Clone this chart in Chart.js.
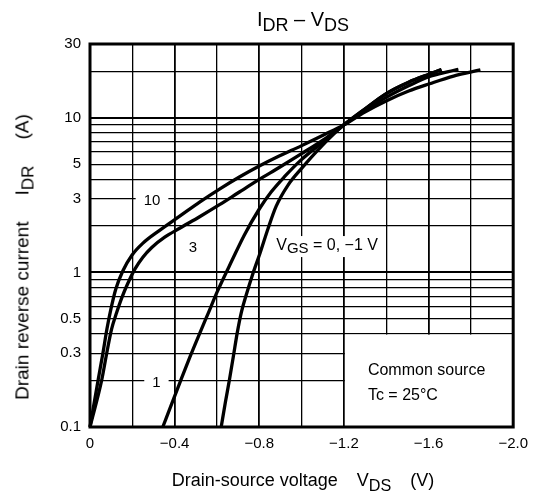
<!DOCTYPE html>
<html><head><meta charset="utf-8">
<script src="https://cdn.jsdelivr.net/npm/chart.js@4/dist/chart.umd.min.js"></script>
<style>
html,body{margin:0;padding:0;background:#fff;}
#wrap{position:relative;width:536px;height:499px;font-family:"Liberation Sans",Arial,sans-serif;color:#000;overflow:hidden;}
canvas{position:absolute;left:0;top:0;}
.t{position:absolute;white-space:nowrap;line-height:1;}
.sub{font-size:0.9em;position:relative;top:0.3em;}
.gap{display:inline-block;width:19px;}
.gapy{display:inline-block;width:26px;}
#title{left:303px;top:19px;font-size:20px;transform:translate(-50%,-50%);}
#xt{left:303px;top:480px;font-size:18px;transform:translate(-50%,-50%);}
#yt{left:22px;top:257px;font-size:19px;transform:translate(-50%,-50%) rotate(-90deg);}
</style></head><body>
<div id="wrap">
<canvas id="c" width="536" height="499" style="width:536px;height:499px"></canvas>
<div class="t" id="title">I<span class="sub">DR</span> – V<span class="sub">DS</span></div>
<div class="t" id="xt">Drain-source voltage<span class="gap"></span>V<span class="sub">DS</span><span class="gap"></span>(V)</div>
<div class="t" id="yt">Drain reverse current<span class="gapy"></span>I<span class="sub">DR</span><span class="gapy"></span>(A)</div>
</div>
<script>
// ---- data (V in volts, I in amperes) ----
const v10 = [0, -0.038, -0.061, -0.080, -0.099, -0.122, -0.155, -0.198, -0.249, -0.329, -0.424, -0.518, -0.612, -0.706, -0.800, -0.894, -0.998, -1.106, -1.2, -1.299, -1.402, -1.506, -1.605, -1.718, -1.845];
const i10 = [0.1, 0.2, 0.3, 0.43, 0.58, 0.78, 1.02, 1.29, 1.54, 1.87, 2.31, 2.85, 3.46, 4.14, 4.88, 5.66, 6.58, 7.76, 9.0, 10.9, 12.9, 14.9, 16.6, 18.6, 20.4];

const v3 = [0, -0.055, -0.079, -0.102, -0.126, -0.151, -0.179, -0.212, -0.249, -0.292, -0.353, -0.424, -0.518, -0.612, -0.706, -0.8, -0.894, -0.998, -1.106, -1.2, -1.299, -1.402, -1.506, -1.605, -1.694, -1.741];
const i3 = [0.1, 0.2, 0.3, 0.43, 0.55, 0.69, 0.85, 1.05, 1.25, 1.45, 1.69, 1.93, 2.29, 2.74, 3.31, 3.99, 4.77, 5.84, 7.25, 9.0, 11.1, 13.6, 16.1, 18.5, 19.9, 20.6];

const v0 = [-0.344, -0.386, -0.428, -0.471, -0.518, -0.560, -0.602, -0.673, -0.729, -0.8, -0.856, -0.918, -0.998, -1.101, -1.2, -1.299, -1.402, -1.506, -1.605, -1.661];
const i0 = [0.1, 0.141, 0.199, 0.281, 0.402, 0.55, 0.753, 1.21, 1.74, 2.57, 3.31, 4.14, 5.34, 6.98, 9.0, 11.4, 14.4, 17.0, 19.2, 20.5];

const vm1 = [-0.620, -0.640, -0.659, -0.678, -0.696, -0.715, -0.739, -0.767, -0.805, -0.842, -0.880, -0.936, -0.998, -1.096, -1.2, -1.299, -1.402, -1.506, -1.605, -1.661];
const im1 = [0.1, 0.145, 0.202, 0.289, 0.408, 0.55, 0.72, 0.956, 1.35, 1.93, 2.68, 3.67, 4.67, 6.58, 9.0, 11.4, 14.4, 17.0, 19.2, 20.5];

// axis grid / tick labels
const xGrid = [0, -0.2, -0.4, -0.6, -0.8, -1.0, -1.2, -1.4, -1.6, -1.8, -2.0];
const xLabelValues = [0, -0.4, -0.8, -1.2, -1.6, -2.0];
const xTickLabels = ['0', '\u22120.4', '\u22120.8', '\u22121.2', '\u22121.6', '\u22122.0'];
const yGrid = [0.1,0.2,0.3,0.4,0.5,0.6,0.7,0.8,0.9,1,2,3,4,5,6,7,8,9,10,20,30];
const yLabelValues = [0.1, 0.3, 0.5, 1, 3, 5, 10, 30];
const yTickLabels = ['0.1', '0.3', '0.5', '1', '3', '5', '10', '30'];

// curve labels: [text, V, I, whiteBackground]
const curveLabels = [['10', -0.293, 3, true], ['3', -0.486, 1.48, false], ['1', -0.314, 0.2, true]];
const vgsLabel = {v: -0.88, i: 1.48};
const noteBox = {v0: -1.2, v1: -2.0, i0: 0.1, i1: 0.4};
const noteLines = ['Common source', 'Tc = 25\u00B0C'];

const FONT = '"Liberation Sans", Arial, sans-serif';
const pts = (vs, is) => vs.map((v, k) => ({x: v, y: is[k]}));
const near = (a, b) => Math.abs(a - b) < 1e-9;

const ds = (d) => ({data: d, borderColor: '#000', borderWidth: 3.3, pointRadius: 0,
  cubicInterpolationMode: 'monotone', fill: false, clip: false, borderCapStyle: 'butt'});

const decor = {
  id: 'decor',
  beforeDatasetsDraw(chart) {
    const {ctx, scales: {x, y}} = chart;
    ctx.save();
    const bx0 = x.getPixelForValue(noteBox.v0), bx1 = x.getPixelForValue(noteBox.v1);
    const by0 = y.getPixelForValue(noteBox.i0), by1 = y.getPixelForValue(noteBox.i1);
    ctx.fillStyle = '#fff';
    ctx.fillRect(bx0 + 1, by1 + 0.7, bx1 - bx0 - 1, by0 - by1);
    ctx.fillStyle = '#000';
    ctx.font = '16px ' + FONT;
    ctx.textBaseline = 'middle';
    ctx.textAlign = 'left';
    ctx.fillText(noteLines[0], bx0 + 24, by1 + 37);
    ctx.fillText(noteLines[1], bx0 + 24, by1 + 62);
    ctx.font = '15px ' + FONT;
    curveLabels.forEach(([t, v, i, bg]) => {
      if (!bg) return;
      const px = x.getPixelForValue(v), py = y.getPixelForValue(i);
      const w = ctx.measureText(t).width;
      ctx.fillStyle = '#fff';
      ctx.fillRect(px - w / 2 - 8, py - 8, w + 16, 16);
    });
    ctx.restore();
  },
  afterDatasetsDraw(chart) {
    const {ctx, scales: {x, y}} = chart;
    ctx.save();
    ctx.fillStyle = '#000';
    ctx.font = '15px ' + FONT;
    ctx.textBaseline = 'middle';
    ctx.textAlign = 'center';
    curveLabels.forEach(([t, v, i]) => {
      ctx.fillText(t, x.getPixelForValue(v), y.getPixelForValue(i) + 2);
    });
    let px = x.getPixelForValue(vgsLabel.v), py = y.getPixelForValue(vgsLabel.i);
    ctx.textAlign = 'left';
    const parts = [['V', 0, 16], ['GS', 3, 15], [' = 0, \u22121 V', 0, 16]];
    let total = 0;
    parts.forEach(([t, d, s]) => { ctx.font = s + 'px ' + FONT; total += ctx.measureText(t).width; });
    ctx.fillStyle = '#fff';
    ctx.fillRect(px - 2, py - 10, total + 4, 21);
    ctx.fillStyle = '#000';
    parts.forEach(([t, d, s]) => {
      ctx.font = s + 'px ' + FONT;
      ctx.fillText(t, px, py + d);
      px += ctx.measureText(t).width;
    });
    ctx.restore();
  },
  afterDraw(chart) {
    const {ctx, chartArea: a} = chart;
    ctx.save();
    ctx.strokeStyle = '#000';
    ctx.lineWidth = 3;
    ctx.strokeRect(a.left, a.top, a.right - a.left, a.bottom - a.top);
    ctx.restore();
  }
};

new Chart(document.getElementById('c'), {
  type: 'line',
  data: {datasets: [ds(pts(v10, i10)), ds(pts(v3, i3)), ds(pts(v0, i0)), ds(pts(vm1, im1))]},
  options: {
    responsive: false, animation: false, devicePixelRatio: 1,
    layout: {padding: {left: 0, right: 21, top: 44, bottom: 0}},
    plugins: {legend: {display: false}, tooltip: {enabled: false}, title: {display: false}},
    scales: {
      x: {
        type: 'linear', min: -2, max: 0, reverse: true,
        afterBuildTicks: s => { s.ticks = xGrid.map(v => ({value: v})); },
        afterFit: s => { s.height = 72; },
        ticks: {autoSkip: false, maxRotation: 0, color: '#000', padding: 8,
          font: {size: 15, family: FONT},
          callback: v => { const k = xLabelValues.findIndex(q => near(q, v)); return k < 0 ? '' : xTickLabels[k]; }},
        grid: {color: '#000', drawTicks: false,
          lineWidth: c => (c.tick && xLabelValues.some(q => near(q, c.tick.value))) ? 1.8 : 1.3},
        border: {display: false}
      },
      y: {
        type: 'logarithmic', min: 0.1, max: 30,
        afterBuildTicks: s => { s.ticks = yGrid.map(v => ({value: v})); },
        afterFit: s => { s.width = 90; },
        ticks: {autoSkip: false, color: '#000', padding: 9,
          font: {size: 15, family: FONT},
          callback: v => { const k = yLabelValues.findIndex(q => near(q, v)); return k < 0 ? '' : yTickLabels[k]; }},
        grid: {color: '#000', drawTicks: false,
          lineWidth: c => (c.tick && (near(c.tick.value, 1) || near(c.tick.value, 10))) ? 2 : 1.3},
        border: {display: false}
      }
    }
  },
  plugins: [decor]
});
</script>
</body></html>
